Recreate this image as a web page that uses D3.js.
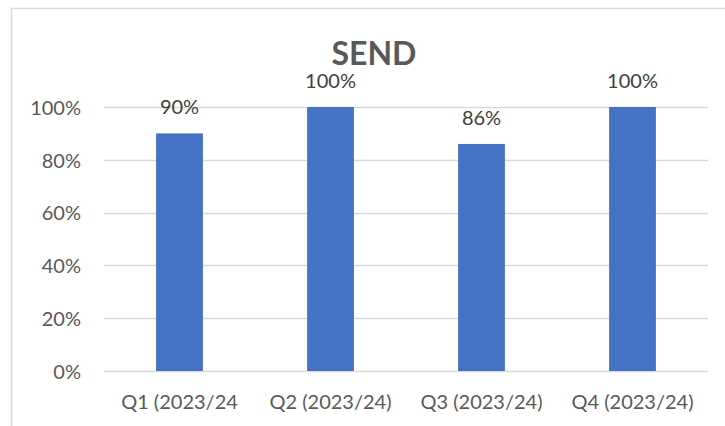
<!DOCTYPE html>
<html>
<head>
<meta charset="utf-8">
<script src="https://cdn.jsdelivr.net/npm/d3@7"></script>
<style>
  html, body { margin: 0; padding: 0; background: #fff; }
  svg { display: block; font-family: Lato, "Open Sans", sans-serif; }
</style>
</head>
<body>
<svg id="chart" width="725" height="426"></svg>
<script>
const title = "SEND";
const categories = ["Q1 (2023/24", "Q2 (2023/24)", "Q3 (2023/24)", "Q4 (2023/24)"];
const values = [0.90, 1.00, 0.86, 1.00];
const dataLabels = ["90%", "100%", "86%", "100%"];
const yTicks = [0, 0.2, 0.4, 0.6, 0.8, 1.0];
const yTickLabels = ["0%", "20%", "40%", "60%", "80%", "100%"];

const svg = d3.select("#chart");
const W = 725, H = 426;
const plot = { left: 104, right: 708, top: 107, bottom: 371 };

// chart border
svg.append("rect")
  .attr("x", 11.5).attr("y", 8.5)
  .attr("width", 740).attr("height", 430)
  .attr("fill", "#fff").attr("stroke", "#D9D9D9").attr("stroke-width", 1.5);

const x = d3.scaleBand().domain(categories)
  .range([plot.left, plot.right])
  .paddingInner(0.69).paddingOuter(0.345);
const y = d3.scaleLinear().domain([0, 1]).range([plot.bottom, plot.top]);

// gridlines
svg.append("g").selectAll("line").data(yTicks).join("line")
  .attr("x1", plot.left).attr("x2", plot.right)
  .attr("y1", d => Math.round(y(d)) + 0.5).attr("y2", d => Math.round(y(d)) + 0.5)
  .attr("stroke", "#D9D9D9").attr("stroke-width", 1.5);

// y axis labels
const yAxis = d3.axisLeft(y).tickValues(yTicks)
  .tickFormat((d, i) => yTickLabels[i]).tickSize(0).tickPadding(23);
const yg = svg.append("g").attr("transform", `translate(${plot.left},0)`).call(yAxis);
yg.select(".domain").remove();
yg.selectAll("text").attr("font-family", "Lato, sans-serif")
  .attr("font-size", 20).attr("fill", "#595959").attr("dy", "0.36em");

// bars
svg.append("g").selectAll("rect").data(values).join("rect")
  .attr("x", (d, i) => x(categories[i]))
  .attr("y", d => y(d))
  .attr("width", x.bandwidth())
  .attr("height", d => y(0) - y(d))
  .attr("fill", "#4472C4");

// x axis labels
const xAxis = d3.axisBottom(x).tickSize(0).tickPadding(0);
const xg = svg.append("g").attr("transform", `translate(0,${plot.bottom})`).call(xAxis);
xg.select(".domain").remove();
xg.selectAll("text").attr("font-family", "Lato, sans-serif")
  .attr("font-size", 20).attr("fill", "#595959").attr("y", 38).attr("dy", 0);

// data labels
svg.append("g").selectAll("text").data(values).join("text")
  .attr("x", (d, i) => x(categories[i]) + x.bandwidth() / 2)
  .attr("y", d => y(d) - 19)
  .attr("text-anchor", "middle")
  .attr("font-size", 20).attr("fill", "#404040")
  .text((d, i) => dataLabels[i]);

// title
svg.append("text")
  .attr("x", 374).attr("y", 65)
  .attr("text-anchor", "middle")
  .attr("font-size", 32).attr("font-weight", "bold").attr("fill", "#595959")
  .text(title);
</script>
</body>
</html>
